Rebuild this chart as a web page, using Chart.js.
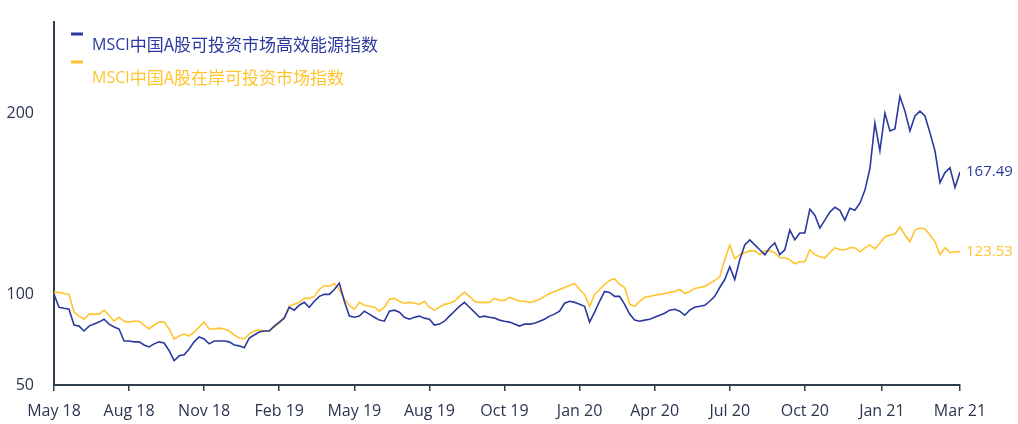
<!DOCTYPE html>
<html>
<head>
<meta charset="utf-8">
<script src="https://cdn.jsdelivr.net/npm/chart.js@4.4.1/dist/chart.umd.min.js"></script>
<style>
  html, body { margin: 0; padding: 0; background: #fff; }
  #wrap { width: 1018px; height: 424px; }
</style>
</head>
<body>
<div id="wrap"><canvas id="chart" width="1018" height="424"></canvas></div>
<script>
// Названия рядов
const seriesNames = ['MSCI中国A股可投资市场高效能源指数', 'MSCI中国A股在岸可投资市场指数'];

// Значения (примерно раз в неделю)
const energyValues = [
  100, 92.9, 92.3, 91.8, 83.1, 82.5, 79.8, 82.5, 83.6, 84.7,
  86.3, 83.6, 82.0, 80.9, 74.3, 74.3, 73.8, 73.8, 72.1, 71.0,
  72.7, 73.8, 73.2, 68.9, 63.4, 66.1, 66.7, 69.9, 73.8, 76.5,
  75.4, 72.7, 74.3, 74.3, 74.3, 73.8, 72.1, 71.6, 70.5, 75.9,
  77.6, 79.2, 79.8, 79.8, 82.5, 84.7, 86.9, 92.9, 91.3, 94.0,
  95.6, 92.9, 96.2, 98.9, 100, 100, 102.7, 106.2, 96.2, 88.0,
  87.4, 88.0, 90.7, 89.1, 87.4, 85.8, 85.2, 90.7, 91.3, 90.2,
  87.4, 86.3, 87.4, 88.0, 86.9, 86.3, 83.1, 83.6, 85.2, 88.0,
  90.7, 93.4, 95.6, 92.9, 90.2, 87.4, 88.0, 87.4, 86.9, 85.8,
  85.2, 84.7, 83.6, 82.5, 83.6, 83.6, 84.1, 85.2, 86.3, 88.0,
  89.1, 90.7, 95.1, 96.2, 95.6, 94.5, 93.4, 84.7, 90.2, 96.2,
  101.6, 101.1, 98.9, 98.9, 94.5, 89.1, 85.8, 85.2, 85.8, 86.3,
  87.4, 88.5, 89.6, 91.3, 91.8, 90.7, 88.5, 91.3, 92.9, 93.4,
  94.0, 96.2, 98.9, 103.8, 108.2, 115.3, 108.2, 119.1, 127.3, 130.1,
  127.3, 124.6, 121.9, 125.7, 128.4, 121.9, 124.6, 135.5, 130.1, 133.9,
  133.9, 147.0, 143.7, 136.6, 141.0, 145.4, 148.1, 146.4, 141.0, 147.5,
  146.4, 150.3, 157.4, 169.4, 194.5, 179.2, 200.0, 190.2, 191.3, 209.3,
  201.1, 190.2, 198.4, 201.1, 198.4, 189.1, 179.2, 161.7, 167.2, 169.9,
  159.0, 167.49,
];

const onshoreValues = [
  101.1, 101.1, 100.5, 100, 90.2, 88.0, 86.3, 89.1, 89.1, 89.1,
  91.3, 88.5, 85.2, 87.4, 85.2, 84.7, 85.2, 85.2, 83.1, 80.9,
  83.1, 84.7, 84.7, 80.9, 75.4, 77.0, 78.1, 77.0, 79.2, 82.0,
  84.7, 80.9, 80.9, 81.4, 80.9, 79.8, 77.6, 75.9, 75.4, 78.1,
  79.8, 80.3, 79.8, 79.8, 82.0, 84.1, 87.4, 93.4, 94.5, 95.6,
  97.8, 97.8, 98.9, 102.7, 104.9, 104.4, 106.0, 102.7, 97.3, 94.0,
  91.8, 95.6, 94.0, 93.4, 92.9, 90.7, 92.9, 97.3, 97.8, 96.2,
  95.1, 95.6, 95.1, 94.5, 96.2, 92.9, 91.3, 92.9, 94.5, 95.1,
  96.2, 98.9, 101.1, 98.9, 96.2, 95.6, 95.6, 95.6, 97.8, 96.7,
  96.7, 98.4, 97.3, 96.2, 96.2, 95.6, 96.2, 97.3, 98.9, 100.5,
  101.6, 102.7, 103.8, 104.9, 106.0, 102.7, 100.0, 93.4, 100.0, 102.7,
  105.5, 107.7, 108.7, 105.5, 103.8, 94.5, 93.4, 96.2, 98.4, 98.9,
  99.5, 100.0, 100.5, 101.1, 101.6, 102.7, 100.5, 101.6, 103.3, 103.8,
  104.4, 106.0, 107.7, 109.8, 119.1, 127.3, 119.7, 121.9, 123.0, 124.0,
  124.0, 121.9, 124.0, 124.0, 123.0, 120.2, 120.2, 119.1, 116.9, 118.0,
  118.0, 124.6, 121.9, 120.8, 120.2, 123.0, 125.7, 124.6, 124.6, 125.7,
  125.7, 123.5, 125.7, 127.3, 125.1, 128.4, 131.7, 132.8, 133.3, 137.2,
  132.8, 129.0, 135.5, 136.6, 136.1, 132.8, 129.0, 121.9, 125.7, 123.0,
  123.5, 123.53,
];

// Подписи оси X и их положение (номер точки)
const tickLabels = ['May 18', 'Aug 18', 'Nov 18', 'Feb 19', 'May 19', 'Aug 19', 'Oct 19',
  'Jan 20', 'Apr 20', 'Jul 20', 'Oct 20', 'Jan 21', 'Mar 21'];
const tickPositions = [0, 15, 30, 45, 60, 75, 90, 105, 120, 135, 150, 165.4, 181];

// Деления оси Y
const yTicks = [50, 100, 200];

const blue = '#2b399f';
const yellow = '#ffc42e';
const axisColor = '#2f3e4e';
const labelColor = '#2b3550';

const toPoints = (values) => values.map((v, i) => ({ x: i, y: v }));

// Легенда и подписи последних значений
const labelsPlugin = {
  id: 'customLabels',
  afterDraw(chart) {
    const ctx = chart.ctx;
    ctx.save();
    ctx.textBaseline = 'middle';
    ctx.textAlign = 'left';

    const legend = [
      { color: blue, text: seriesNames[0], dashY: 34, textY: 45 },
      { color: yellow, text: seriesNames[1], dashY: 62, textY: 78 },
    ];
    legend.forEach((item) => {
      ctx.fillStyle = item.color;
      ctx.fillRect(71, item.dashY - 1.5, 12, 3);
      ctx.font = '16px "Open Sans", sans-serif';
      ctx.fillText('MSCI', 92, item.textY);
      const w = ctx.measureText('MSCI').width;
      ctx.font = '17px "Noto Sans CJK SC", sans-serif';
      ctx.fillText(item.text.slice(4), 92 + w, item.textY);
    });

    // Подписи в конце линий
    ctx.font = '15px "Open Sans", sans-serif';
    const xScale = chart.scales.x;
    const yScale = chart.scales.y;
    chart.data.datasets.forEach((ds) => {
      const last = ds.data[ds.data.length - 1];
      ctx.fillStyle = ds.borderColor;
      ctx.fillText(last.y.toFixed(2), xScale.getPixelForValue(last.x) + 6, yScale.getPixelForValue(last.y));
    });
    ctx.restore();
  },
};

new Chart(document.getElementById('chart').getContext('2d'), {
  type: 'line',
  data: {
    datasets: [
      {
        label: seriesNames[0],
        data: toPoints(energyValues),
        borderColor: blue,
        borderWidth: 1.6,
        pointRadius: 0,
        tension: 0,
      },
      {
        label: seriesNames[1],
        data: toPoints(onshoreValues),
        borderColor: yellow,
        borderWidth: 1.6,
        pointRadius: 0,
        tension: 0,
      },
    ],
  },
  options: {
    responsive: false,
    animation: false,
    layout: { padding: { top: 0, right: 58, left: 0, bottom: 0 } },
    plugins: {
      legend: { display: false },
      tooltip: { enabled: false },
    },
    scales: {
      x: {
        type: 'linear',
        min: 0,
        max: 181,
        afterBuildTicks: (scale) => {
          scale.ticks = tickPositions.map((v) => ({ value: v }));
        },
        afterFit: (scale) => {
          scale.height = 39;
        },
        ticks: {
          autoSkip: false,
          maxRotation: 0,
          padding: 11,
          color: labelColor,
          font: { family: '"Open Sans", sans-serif', size: 16 },
          callback: (value, index) => tickLabels[index],
        },
        grid: {
          drawOnChartArea: false,
          drawTicks: true,
          tickLength: 6,
          color: axisColor,
          lineWidth: 1.5,
        },
        border: { display: true, color: axisColor, width: 2 },
      },
      y: {
        min: 50,
        max: 250.5,
        afterBuildTicks: (scale) => {
          scale.ticks = yTicks.map((v) => ({ value: v }));
        },
        afterFit: (scale) => {
          scale.width = 54;
        },
        ticks: {
          padding: 12,
          color: labelColor,
          font: { family: '"Open Sans", sans-serif', size: 16 },
        },
        grid: { display: false },
        border: { display: true, color: axisColor, width: 2 },
      },
    },
  },
  plugins: [labelsPlugin],
});
</script>
</body>
</html>
